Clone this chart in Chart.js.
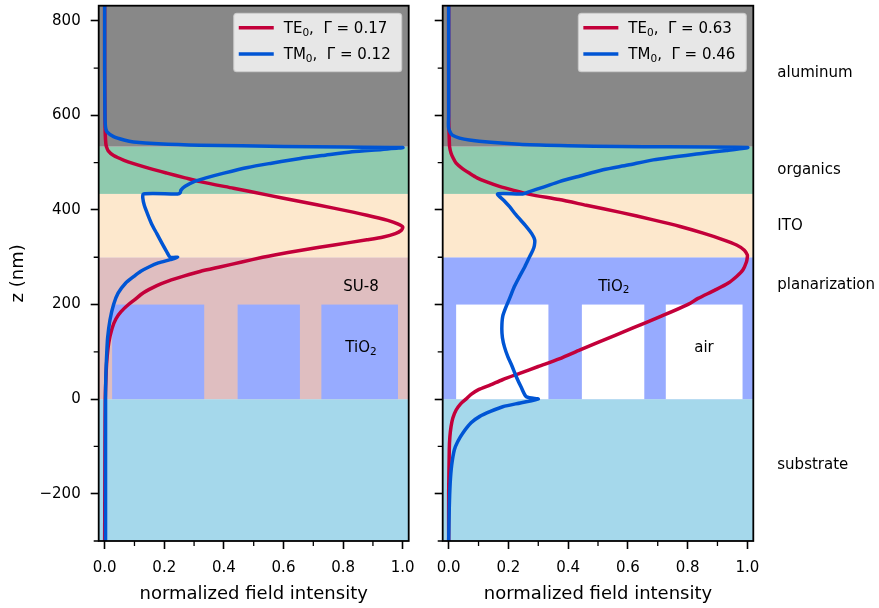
<!DOCTYPE html>
<html>
<head>
<meta charset="utf-8">
<script src="https://cdn.jsdelivr.net/npm/chart.js@4.4.1/dist/chart.umd.min.js"></script>
<style>
  html, body { margin: 0; padding: 0; background: #fff; }
  #wrap { position: relative; width: 879px; height: 608px; }
  canvas { position: absolute; top: 0; }
  #left { left: 0; }
  #right { left: 420px; }
</style>
</head>
<body>
<div id="wrap">
  <canvas id="left" width="420" height="608"></canvas>
  <canvas id="right" width="459" height="608"></canvas>
</div>
<script>
// layer stack (z in nm)
const zEdges = [-300, 0, 300, 434, 534, 832];
const gratingLeft = [0.025, 0.446, 0.727];
const gratingRight = [0.334, 0.655, 0.984];
const gratingTop = 200;

// axis ticks
const xMajor = [0, 0.2, 0.4, 0.6, 0.8, 1.0];
const xMinor = [0.1, 0.3, 0.5, 0.7, 0.9];
const yMajor = [-200, 0, 200, 400, 600, 800];
const yMinor = [-300, -100, 100, 300, 500, 700];

// legend
const modeNames = ["TE", "TM"];
const gammaLeft = [0.17, 0.12];
const gammaRight = [0.63, 0.46];

// layer names on the right
const sideLabels = ["aluminum", "organics", "ITO", "planarization", "substrate"];
const sideLabelZ = [690, 485, 366, 242, -140];

// left panel (SU-8 planarization, TiO2 grating)
const leftTEz = [832, 700, 600, 560, 540, 534, 525, 515, 505, 498, 488, 478, 468, 460, 446, 432, 418, 404, 389, 378, 370, 364, 357, 350, 343, 337, 326, 315, 305, 300, 290, 280, 270, 260, 250, 240, 225, 210, 200, 185, 170, 150, 120, 80, 40, 0, -100, -300];
const leftTEi = [0.0, 0.0, 0.001, 0.002, 0.004, 0.006, 0.012, 0.03, 0.065, 0.097, 0.15, 0.209, 0.27, 0.32, 0.432, 0.544, 0.656, 0.768, 0.88, 0.95, 0.985, 1.0, 0.995, 0.975, 0.935, 0.88, 0.77, 0.66, 0.57, 0.53, 0.46, 0.39, 0.32, 0.265, 0.215, 0.175, 0.13, 0.1, 0.08, 0.055, 0.038, 0.025, 0.014, 0.007, 0.004, 0.002, 0.001, 0.0];
const leftTMz = [832, 700, 600, 575, 565, 555, 548, 544, 540, 537, 534.5, 533, 532, 528, 523, 515, 509, 499, 490, 478, 468, 460, 450, 442, 436, 434, 434, 425, 410, 393, 370, 350, 330, 312, 300, 300, 295, 288, 280, 270, 259, 245, 224, 200, 168, 130, 97, 50, 0, -300];
const leftTMi = [0.0, 0.0, 0.001, 0.003, 0.008, 0.03, 0.065, 0.097, 0.18, 0.32, 0.6, 0.8, 1.0, 0.93, 0.83, 0.73, 0.656, 0.56, 0.48, 0.4, 0.34, 0.3, 0.27, 0.256, 0.253, 0.245, 0.13, 0.128, 0.133, 0.143, 0.158, 0.175, 0.192, 0.208, 0.22, 0.245, 0.22, 0.18, 0.15, 0.12, 0.097, 0.07, 0.045, 0.03, 0.018, 0.01, 0.007, 0.004, 0.003, 0.003];

// right panel (TiO2 planarization, air grating)
const rightTEz = [832, 600, 570, 548, 534, 520, 510, 499, 488, 478, 468, 460, 450, 442, 433, 422, 410, 395, 379, 365, 351, 338, 326, 315, 305, 300, 290, 273, 260, 245, 230, 213, 200, 175, 150, 120, 104, 85, 69, 55, 41, 30, 20, 10, 0, -10, -23, -40, -58, -80, -107, -200, -300];
const rightTEi = [0.0, 0.0, 0.001, 0.002, 0.003, 0.008, 0.015, 0.025, 0.045, 0.069, 0.095, 0.125, 0.17, 0.215, 0.271, 0.37, 0.461, 0.575, 0.685, 0.775, 0.852, 0.915, 0.964, 0.99, 1.0, 1.0, 0.997, 0.985, 0.965, 0.935, 0.89, 0.835, 0.8, 0.71, 0.615, 0.5, 0.44, 0.37, 0.3, 0.24, 0.18, 0.14, 0.1, 0.075, 0.058, 0.04, 0.025, 0.014, 0.008, 0.004, 0.002, 0.0, 0.0];
const rightTMz = [832, 600, 573, 558, 548, 539, 536, 534, 532, 526, 520, 506, 495, 485, 472, 460, 449, 439, 434, 434, 420, 407, 390, 365, 350, 337, 325, 315, 301, 280, 259, 238, 213, 195, 175, 150, 130, 110, 90, 70, 48, 25, 5, 0, -8, -16, -26, -37, -50, -72, -90, -107, -140, -178, -230, -300];
const rightTMi = [0.0, 0.0, 0.0, 0.013, 0.069, 0.237, 0.4, 0.573, 1.0, 0.93, 0.852, 0.685, 0.6, 0.517, 0.44, 0.371, 0.32, 0.271, 0.248, 0.164, 0.185, 0.204, 0.225, 0.26, 0.278, 0.288, 0.287, 0.282, 0.271, 0.255, 0.237, 0.22, 0.204, 0.192, 0.181, 0.178, 0.18, 0.187, 0.198, 0.212, 0.226, 0.243, 0.26, 0.3, 0.24, 0.181, 0.14, 0.103, 0.075, 0.047, 0.03, 0.019, 0.01, 0.005, 0.002, 0.0];

// styles
const teColor = "#c3003a";
const tmColor = "#0055d4";
const leftLayerColors = ["#a5d8eb", "#dfbec0", "#fde8cd", "#8fcaae", "#888888"];
const rightLayerColors = ["#a5d8eb", "#97abff", "#fde8cd", "#8fcaae", "#888888"];
const FONT = "DejaVu Sans";

Chart.defaults.font.family = FONT;
Chart.defaults.color = "#000";

function toPoints(zs, vals) {
    return zs.map((z, i) => ({ x: vals[i], y: z }));
}

// draw text made of pieces, some of them subscript
function drawRich(ctx, parts, x, y, size, align) {
    const subSize = size * 0.7;
    const w = richWidth(ctx, parts, size);
    let cx = align === "center" ? x - w / 2 : x;
    const base = y + size * 0.36;
    ctx.textAlign = "left";
    ctx.textBaseline = "alphabetic";
    ctx.fillStyle = "#000";
    parts.forEach(p => {
        ctx.font = `${p.sub ? subSize : size}px "${FONT}"`;
        ctx.fillText(p.t, cx, p.sub ? base + size * 0.18 : base);
        cx += ctx.measureText(p.t).width;
    });
    return w;
}

function richWidth(ctx, parts, size) {
    let w = 0;
    parts.forEach(p => {
        ctx.font = `${p.sub ? size * 0.7 : size}px "${FONT}"`;
        w += ctx.measureText(p.t).width;
    });
    return w;
}

const layersPlugin = {
    id: "layers",
    beforeDatasetsDraw(chart, args, opts) {
        const { ctx, chartArea: a, scales: { x, y } } = chart;
        ctx.save();
        for (let i = 0; i < opts.colors.length; i++) {
            const top = y.getPixelForValue(zEdges[i + 1]);
            const bot = y.getPixelForValue(zEdges[i]);
            ctx.fillStyle = opts.colors[i];
            ctx.fillRect(a.left, top, a.right - a.left, bot - top);
        }
        ctx.fillStyle = opts.gratingColor;
        gratingLeft.forEach((g, i) => {
            const l = x.getPixelForValue(g);
            const r = x.getPixelForValue(gratingRight[i]);
            const t = y.getPixelForValue(gratingTop);
            const b = y.getPixelForValue(0);
            ctx.fillRect(l, t, r - l, b - t);
        });
        opts.labels.forEach(lb => {
            drawRich(ctx, lb.parts, x.getPixelForValue(lb.x), y.getPixelForValue(lb.z), 15, "center");
        });
        ctx.restore();
    },
    afterDraw(chart, args, opts) {
        const { ctx, chartArea: a, scales: { x, y } } = chart;
        ctx.save();
        // minor ticks
        ctx.strokeStyle = "#000";
        ctx.lineWidth = 1.3;
        ctx.beginPath();
        xMinor.forEach(v => {
            const px = x.getPixelForValue(v);
            ctx.moveTo(px, a.bottom);
            ctx.lineTo(px, a.bottom + 5);
        });
        yMinor.forEach(v => {
            const py = y.getPixelForValue(v);
            ctx.moveTo(a.left, py);
            ctx.lineTo(a.left - 5, py);
        });
        ctx.stroke();
        // frame
        ctx.lineWidth = 1.8;
        ctx.strokeRect(a.left, a.top, a.right - a.left, a.bottom - a.top);

        // legend box
        const size = 15;
        const texts = chart.data.datasets.map((d, i) => [
            { t: d.label }, { t: "0", sub: true }, { t: ",  \u0393 = " + opts.gammas[i].toFixed(2) }
        ]);
        const tw = Math.max(...texts.map(p => richWidth(ctx, p, size)));
        const boxW = 5 + 35 + 10 + tw + 11;
        const boxR = a.right - 7;
        const boxL = boxR - boxW;
        const boxT = a.top + 7.6, boxB = a.top + 66;
        ctx.beginPath();
        ctx.roundRect(boxL, boxT, boxW, boxB - boxT, 3);
        ctx.fillStyle = "rgba(255,255,255,0.8)";
        ctx.fill();
        ctx.lineWidth = 1.2;
        ctx.strokeStyle = "rgba(204,204,204,0.8)";
        ctx.stroke();
        const rows = [a.top + 22, a.top + 48.3];
        chart.data.datasets.forEach((d, i) => {
            ctx.beginPath();
            ctx.strokeStyle = d.borderColor;
            ctx.lineWidth = 3.5;
            ctx.moveTo(boxL + 5, rows[i]);
            ctx.lineTo(boxL + 40, rows[i]);
            ctx.stroke();
            drawRich(ctx, texts[i], boxL + 50, rows[i], size, "left");
        });

        // layer names to the right
        if (opts.sideLabels) {
            ctx.font = `15px "${FONT}"`;
            ctx.fillStyle = "#000";
            ctx.textAlign = "left";
            ctx.textBaseline = "middle";
            sideLabels.forEach((s, i) => {
                ctx.fillText(s, a.right + 24, y.getPixelForValue(sideLabelZ[i]));
            });
        }
        ctx.restore();
    }
};

function makeChart(id, cfg) {
    const datasets = [
        { label: modeNames[0], data: toPoints(cfg.teZ, cfg.teI), borderColor: teColor, order: 1 },
        { label: modeNames[1], data: toPoints(cfg.tmZ, cfg.tmI), borderColor: tmColor, order: 0 }
    ].map(d => Object.assign(d, {
        showLine: true, pointRadius: 0, borderWidth: 3.5, tension: 0.25, fill: false
    }));

    return new Chart(document.getElementById(id), {
        type: "scatter",
        data: { datasets },
        options: {
            responsive: false,
            animation: false,
            events: [],
            layout: { autoPadding: false, padding: { left: 0, right: cfg.padRight, top: 5.7, bottom: 0 } },
            plugins: {
                legend: { display: false },
                tooltip: { enabled: false },
                layers: {
                    colors: cfg.colors,
                    gratingColor: cfg.gratingColor,
                    labels: cfg.labels,
                    gammas: cfg.gammas,
                    sideLabels: cfg.sideLabels
                }
            },
            scales: {
                x: {
                    type: "linear",
                    min: -0.02, max: 1.02,
                    afterBuildTicks: s => { s.ticks = xMajor.map(v => ({ value: v })); },
                    afterFit: s => { s.height = 67; s.paddingLeft = 0; s.paddingRight = 0; },
                    ticks: { callback: v => v.toFixed(1), font: { size: 15 }, color: "#000", padding: 10, maxRotation: 0, autoSkip: false },
                    grid: { drawOnChartArea: false, tickLength: 8, tickWidth: 1.6, tickColor: "#000" },
                    border: { display: false },
                    title: { display: true, text: "normalized field intensity", font: { size: 18 }, color: "#000", padding: { top: 0, bottom: 2.6 } }
                },
                y: {
                    type: "linear",
                    min: -300, max: 832,
                    afterBuildTicks: s => { s.ticks = yMajor.map(v => ({ value: v })); },
                    afterFit: s => { s.width = cfg.yWidth; s.paddingTop = 0; s.paddingBottom = 0; },
                    ticks: {
                        display: cfg.yLabels,
                        callback: v => v < 0 ? "\u2212" + Math.abs(v) : String(v),
                        font: { size: 15 }, color: "#000", padding: 10
                    },
                    grid: { drawOnChartArea: false, tickLength: 8, tickWidth: 1.6, tickColor: "#000" },
                    border: { display: false },
                    title: { display: cfg.yLabels, text: "z (nm)", font: { size: 18 }, color: "#000", padding: { top: 8, bottom: 0 } }
                }
            }
        },
        plugins: [layersPlugin]
    });
}

makeChart("left", {
    teZ: leftTEz, teI: leftTEi, tmZ: leftTMz, tmI: leftTMi,
    colors: leftLayerColors, gratingColor: "#97abff",
    gammas: gammaLeft, yWidth: 98.7, padRight: 11.3, yLabels: true, sideLabels: false,
    labels: [
        { parts: [{ t: "SU-8" }], x: 0.86, z: 241 },
        { parts: [{ t: "TiO" }, { t: "2", sub: true }], x: 0.86, z: 111 }
    ]
});

makeChart("right", {
    teZ: rightTEz, teI: rightTEi, tmZ: rightTMz, tmI: rightTMi,
    colors: rightLayerColors, gratingColor: "#ffffff",
    gammas: gammaRight, yWidth: 22.7, padRight: 125.7, yLabels: false, sideLabels: true,
    labels: [
        { parts: [{ t: "TiO" }, { t: "2", sub: true }], x: 0.553, z: 241 },
        { parts: [{ t: "air" }], x: 0.855, z: 111 }
    ]
});
</script>
</body>
</html>
